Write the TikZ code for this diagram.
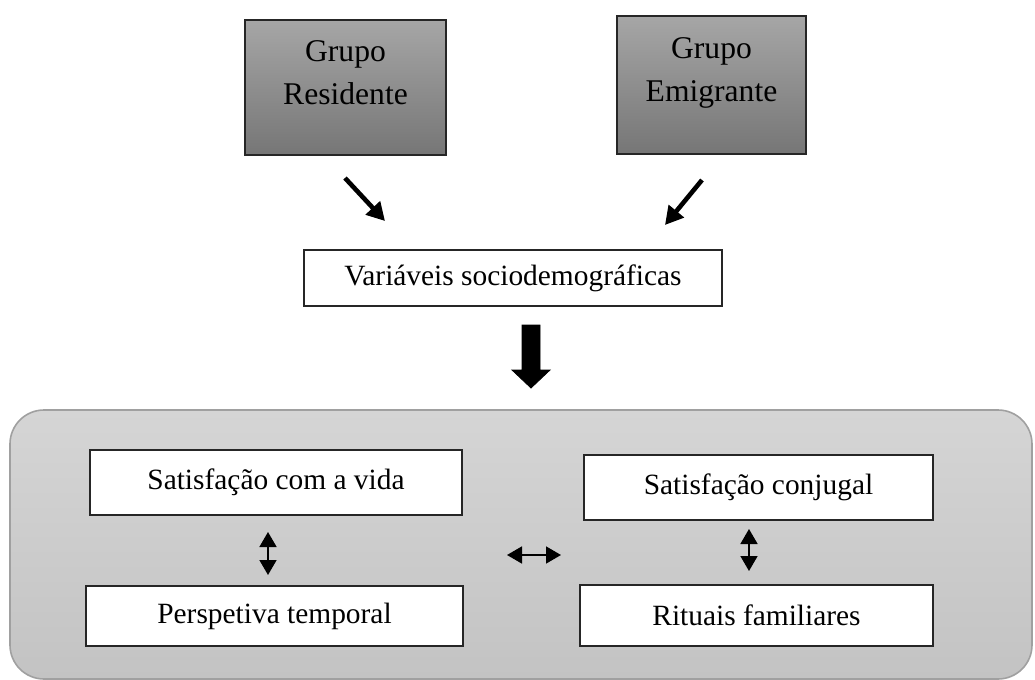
\documentclass[tikz,border=0pt]{standalone}
\usepackage{fontspec}
\setmainfont{Liberation Serif}
\usetikzlibrary{arrows.meta}

\definecolor{grupotop}{RGB}{166,166,166}
\definecolor{grupobot}{RGB}{118,118,118}
\definecolor{paineltop}{RGB}{213,213,213}
\definecolor{painelbot}{RGB}{195,195,195}
\definecolor{painelline}{RGB}{160,160,160}

\begin{document}
\begin{tikzpicture}[x=0.5pt,y=-0.5pt,
  font=\fontsize{14.7}{21.5}\selectfont,
  grupo/.style={draw=black!85, line width=0.8pt, top color=grupotop, bottom color=grupobot,
    font=\fontsize{15.8}{21.5}\selectfont, align=center, text depth=15pt, inner sep=0pt},
  caixa/.style={draw=black!85, line width=0.8pt, fill=white, inner sep=0pt},
  seta/.style={line width=2.3pt, -{Triangle[length=9pt,width=9.5pt]}},
  dupla/.style={line width=0.8pt, {Triangle[length=7.5pt,width=8.5pt]}-{Triangle[length=7.5pt,width=8.5pt]}}]
  \useasboundingbox (0,0) rectangle (1035,680);

  \node [grupo, minimum width=100.5pt, minimum height=67.5pt] (res) at (345.5,87.5) {Grupo\\Residente};
  \node [grupo, minimum width=94.5pt, minimum height=69pt] (emi) at (711.5,85) {Grupo\\Emigrante};

  \coordinate (r1) at (345,178);
  \coordinate (r2) at (385,221);
  \draw [seta] (r1) -- (r2);
  \coordinate (e1) at (702,180);
  \coordinate (e2) at (665,225);
  \draw [seta] (e1) -- (e2);

  \node [caixa, minimum width=209pt, minimum height=28pt] (var) at (513,278) {Variáveis sociodemográficas};

  \draw [fill=black] (522,325) -- (540,325) -- (540,370) -- (550,370) -- (531,388)
    -- (512,370) -- (522,370) -- cycle;

  \draw [draw=painelline, line width=0.8pt, top color=paineltop, bottom color=painelbot,
    rounded corners=17pt] (10,410) rectangle (1032,679);

  \node [caixa, minimum width=186pt, minimum height=32.5pt] (vida) at (276,482.5) {Satisfação com a vida};
  \node [caixa, minimum width=188.5pt, minimum height=30pt] (temp) at (274.5,616) {Perspetiva temporal};
  \node [caixa, minimum width=174.5pt, minimum height=32.5pt] (conj) at (758.5,487.5) {Satisfação conjugal};
  \node [caixa, minimum width=176.5pt, minimum height=30.5pt] (rit) at (756.5,615.5) {Rituais familiares};

  \coordinate (v1) at (268,532);
  \coordinate (v2) at (268,575);
  \draw [dupla] (v1) -- (v2);
  \coordinate (h1) at (507,555);
  \coordinate (h2) at (561,555);
  \draw [dupla] (h1) -- (h2);
  \coordinate (c1) at (749,529);
  \coordinate (c2) at (749,571);
  \draw [dupla] (c1) -- (c2);

\end{tikzpicture}
\end{document}
